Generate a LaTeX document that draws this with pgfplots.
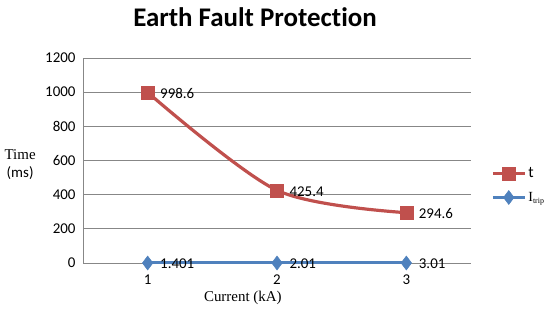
\documentclass[border=0pt]{standalone}
\usepackage{fontspec}
\setmainfont[Ligatures=NoCommon]{Carlito}
\newfontfamily\tnr{Liberation Serif}
\usepackage{pgfplots}
\pgfplotsset{compat=1.18}
\definecolor{exred}{HTML}{C0504D}
\definecolor{exblue}{HTML}{4F81BD}
\definecolor{exgrid}{HTML}{878787}
\begin{document}
\begin{tikzpicture}[x=1bp,y=1bp]
\useasboundingbox (0,0) rectangle (550,309);
\node[font=\fontsize{27}{31}\selectfont\bfseries] at (255,292) {Earth Fault Protection};
\begin{axis}[
    at={(83bp,46bp)}, anchor=south west,
    scale only axis,
    width=388bp, height=205bp,
    xmin=0.5, xmax=3.5,
    ymin=0, ymax=1200,
    xtick={1,2,3},
    ytick={0,200,400,600,800,1000,1200},
    axis x line*=bottom, axis y line*=left,
    axis line style={exgrid, line width=0.8pt},
    x axis line style={-}, y axis line style={-},
    ymajorgrids=true,
    grid style={exgrid, line width=0.8pt},
    major tick length=0pt,
    /pgf/number format/assume math mode=true,
    /pgf/number format/1000 sep={},
    ticklabel style={font=\fontsize{15}{18}\selectfont},
    xticklabel style={yshift=-8bp},
    yticklabel style={xshift=-4bp},
    xlabel={\tnr Current (kA)},
    xlabel style={font=\fontsize{15}{18}\selectfont, at={(rel axis cs:0.412,-0.171)}, anchor=center},
    ylabel={{\tnr Time}\\(ms)},
    ylabel style={font=\fontsize{15}{18}\selectfont, align=center, rotate=-90, at={(rel axis cs:-0.162,0.478)}, anchor=center},
    legend style={at={(rel axis cs:1.052,0.475)}, anchor=north west, draw=none, fill=none,
        inner sep=0pt, outer sep=0pt,
        font=\fontsize{16}{19}\selectfont, row sep=9bp,
        /tikz/every odd column/.append style={inner xsep=0pt},
        /tikz/every even column/.append style={column sep=0pt, inner xsep=2bp}},
    legend cell align=left,
    legend image code/.code={\draw[mark repeat=2,mark phase=2] plot coordinates {(0bp,0bp) (16bp,0bp) (32bp,0bp)};},
    nodes near coords,
    point meta=explicit symbolic,
    every node near coord/.append style={anchor=west, xshift=9bp, yshift=-1bp, font=\fontsize{15}{18}\selectfont, text=black},
]
\addplot[color=exred, line width=3.2pt, smooth, tension=0.5, mark=square*, mark size=6.5bp, mark options={fill=exred, line width=0.5pt}]
    coordinates {(1,998.6)[998.6] (2,425.4)[425.4] (3,294.6)[294.6]};
\addlegendentry{t}
\addplot[color=exblue, line width=3.2pt, mark=diamond*, mark size=7bp, mark options={fill=exblue, line width=0.5pt}]
    coordinates {(1,0)[1.401] (2,0)[2.01] (3,0)[3.01]};
\addlegendentry{{\tnr\fontsize{14}{16}\selectfont I\raisebox{-2.5bp}{\fontsize{8}{9}\selectfont trip}}}
\end{axis}
\end{tikzpicture}
\end{document}
